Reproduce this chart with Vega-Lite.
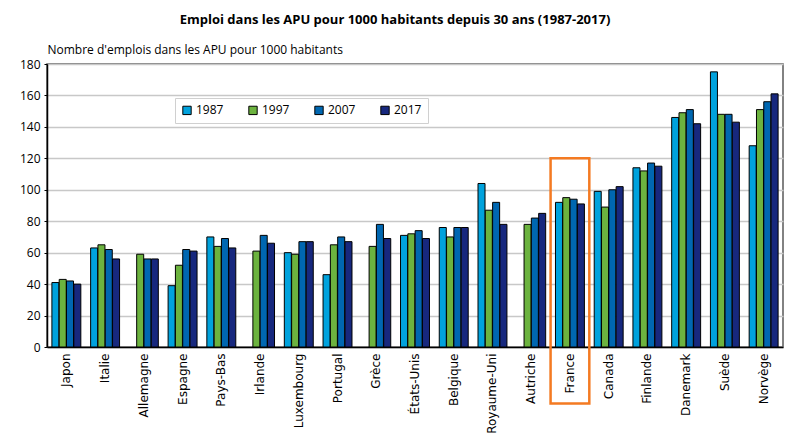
{
  "$schema": "https://vega.github.io/schema/vega-lite/v6.json",
  "width": 736,
  "height": 283,
  "autosize": {"type": "none"},
  "padding": {"left": 47, "top": 64, "right": 6, "bottom": 90},
  "background": "white",
  "title": {
    "text": "Emploi dans les APU pour 1000 habitants depuis 30 ans (1987-2017)",
    "font": "Open Sans",
    "fontSize": 13,
    "fontWeight": "bold",
    "color": "black",
    "anchor": "middle",
    "dx": -20,
    "offset": 16
  },
  "config": {
    "view": {"stroke": "#595959", "strokeWidth": 1.5},
    "font": "Open Sans",
    "axisY": {
      "values": [0, 20, 40, 60, 80, 100, 120, 140, 160, 180],
      "labelOverlap": false,
      "labelFlush": false,
      "titleAngle": 0,
      "titleAlign": "left",
      "titleBaseline": "bottom",
      "titleX": 0,
      "titleY": -8,
      "titleFont": "Open Sans",
      "titleFontSize": 12,
      "titleFontWeight": "normal",
      "titleColor": "black",
      "labelFont": "Open Sans",
      "labelFontSize": 12,
      "labelColor": "black",
      "labelPadding": 4,
      "tickSize": 3,
      "tickColor": "black",
      "domainColor": "black",
      "domainWidth": 1.5,
      "grid": true,
      "gridColor": "#c8c8c8",
      "gridWidth": 1.5
    }
  },
  "datasets": {
    "emplois": [
      {"pays": "Japon", "annee": "1987", "valeur": 41},
      {"pays": "Japon", "annee": "1997", "valeur": 43},
      {"pays": "Japon", "annee": "2007", "valeur": 42},
      {"pays": "Japon", "annee": "2017", "valeur": 40},
      {"pays": "Italie", "annee": "1987", "valeur": 63},
      {"pays": "Italie", "annee": "1997", "valeur": 65},
      {"pays": "Italie", "annee": "2007", "valeur": 62},
      {"pays": "Italie", "annee": "2017", "valeur": 56},
      {"pays": "Allemagne", "annee": "1997", "valeur": 59},
      {"pays": "Allemagne", "annee": "2007", "valeur": 56},
      {"pays": "Allemagne", "annee": "2017", "valeur": 56},
      {"pays": "Espagne", "annee": "1987", "valeur": 39},
      {"pays": "Espagne", "annee": "1997", "valeur": 52},
      {"pays": "Espagne", "annee": "2007", "valeur": 62},
      {"pays": "Espagne", "annee": "2017", "valeur": 61},
      {"pays": "Pays-Bas", "annee": "1987", "valeur": 70},
      {"pays": "Pays-Bas", "annee": "1997", "valeur": 64},
      {"pays": "Pays-Bas", "annee": "2007", "valeur": 69},
      {"pays": "Pays-Bas", "annee": "2017", "valeur": 63},
      {"pays": "Irlande", "annee": "1997", "valeur": 61},
      {"pays": "Irlande", "annee": "2007", "valeur": 71},
      {"pays": "Irlande", "annee": "2017", "valeur": 66},
      {"pays": "Luxembourg", "annee": "1987", "valeur": 60},
      {"pays": "Luxembourg", "annee": "1997", "valeur": 59},
      {"pays": "Luxembourg", "annee": "2007", "valeur": 67},
      {"pays": "Luxembourg", "annee": "2017", "valeur": 67},
      {"pays": "Portugal", "annee": "1987", "valeur": 46},
      {"pays": "Portugal", "annee": "1997", "valeur": 65},
      {"pays": "Portugal", "annee": "2007", "valeur": 70},
      {"pays": "Portugal", "annee": "2017", "valeur": 67},
      {"pays": "Grèce", "annee": "1997", "valeur": 64},
      {"pays": "Grèce", "annee": "2007", "valeur": 78},
      {"pays": "Grèce", "annee": "2017", "valeur": 69},
      {"pays": "États-Unis", "annee": "1987", "valeur": 71},
      {"pays": "États-Unis", "annee": "1997", "valeur": 72},
      {"pays": "États-Unis", "annee": "2007", "valeur": 74},
      {"pays": "États-Unis", "annee": "2017", "valeur": 69},
      {"pays": "Belgique", "annee": "1987", "valeur": 76},
      {"pays": "Belgique", "annee": "1997", "valeur": 70},
      {"pays": "Belgique", "annee": "2007", "valeur": 76},
      {"pays": "Belgique", "annee": "2017", "valeur": 76},
      {"pays": "Royaume-Uni", "annee": "1987", "valeur": 104},
      {"pays": "Royaume-Uni", "annee": "1997", "valeur": 87},
      {"pays": "Royaume-Uni", "annee": "2007", "valeur": 92},
      {"pays": "Royaume-Uni", "annee": "2017", "valeur": 78},
      {"pays": "Autriche", "annee": "1997", "valeur": 78},
      {"pays": "Autriche", "annee": "2007", "valeur": 82},
      {"pays": "Autriche", "annee": "2017", "valeur": 85},
      {"pays": "France", "annee": "1987", "valeur": 92},
      {"pays": "France", "annee": "1997", "valeur": 95},
      {"pays": "France", "annee": "2007", "valeur": 94},
      {"pays": "France", "annee": "2017", "valeur": 91},
      {"pays": "Canada", "annee": "1987", "valeur": 99},
      {"pays": "Canada", "annee": "1997", "valeur": 89},
      {"pays": "Canada", "annee": "2007", "valeur": 100},
      {"pays": "Canada", "annee": "2017", "valeur": 102},
      {"pays": "Finlande", "annee": "1987", "valeur": 114},
      {"pays": "Finlande", "annee": "1997", "valeur": 112},
      {"pays": "Finlande", "annee": "2007", "valeur": 117},
      {"pays": "Finlande", "annee": "2017", "valeur": 115},
      {"pays": "Danemark", "annee": "1987", "valeur": 146},
      {"pays": "Danemark", "annee": "1997", "valeur": 149},
      {"pays": "Danemark", "annee": "2007", "valeur": 151},
      {"pays": "Danemark", "annee": "2017", "valeur": 142},
      {"pays": "Suède", "annee": "1987", "valeur": 175},
      {"pays": "Suède", "annee": "1997", "valeur": 148},
      {"pays": "Suède", "annee": "2007", "valeur": 148},
      {"pays": "Suède", "annee": "2017", "valeur": 143},
      {"pays": "Norvège", "annee": "1987", "valeur": 128},
      {"pays": "Norvège", "annee": "1997", "valeur": 151},
      {"pays": "Norvège", "annee": "2007", "valeur": 156},
      {"pays": "Norvège", "annee": "2017", "valeur": 161}
    ],
    "cadre": [
      {"pays": "France", "haut": 120, "bas": -36}
    ]
  },
  "layer": [
    {
      "data": {"name": "emplois"},
      "mark": {"type": "bar", "stroke": "black", "strokeWidth": 1},
      "encoding": {
        "x": {
          "field": "pays",
          "type": "nominal",
          "scale": {
            "domain": ["Japon", "Italie", "Allemagne", "Espagne", "Pays-Bas", "Irlande", "Luxembourg", "Portugal", "Grèce", "États-Unis", "Belgique", "Royaume-Uni", "Autriche", "France", "Canada", "Finlande", "Danemark", "Suède", "Norvège"],
            "paddingInner": 0,
            "paddingOuter": 0
          },
          "axis": {
            "title": null,
            "labelAngle": -90,
            "labelFont": "DejaVu Sans",
            "labelFontSize": 12,
            "labelColor": "black",
            "labelPadding": 6,
            "ticks": false,
            "domainColor": "black",
            "domainWidth": 1.5
          }
        },
        "xOffset": {
          "field": "annee",
          "type": "nominal",
          "scale": {"paddingOuter": 0.67, "paddingInner": 0.04}
        },
        "y": {
          "field": "valeur",
          "type": "quantitative",
          "scale": {"domain": [0, 180], "nice": false},
          "axis": {
            "title": "Nombre d'emplois dans les APU pour 1000 habitants",
            "values": [0, 20, 40, 60, 80, 100, 120, 140, 160, 180]
          }
        },
        "color": {
          "field": "annee",
          "type": "nominal",
          "scale": {
            "domain": ["1987", "1997", "2007", "2017"],
            "range": ["#00a2dd", "#6cb33f", "#0067b1", "#17287e"]
          },
          "legend": {
            "title": null,
            "orient": "none",
            "legendX": 128,
            "legendY": 34,
            "direction": "horizontal",
            "columns": 4,
            "symbolType": "square",
            "symbolSize": 70,
            "symbolStrokeColor": "black",
            "symbolStrokeWidth": 1,
            "labelFont": "Open Sans",
            "labelFontSize": 12,
            "labelColor": "black",
            "labelOffset": 3,
            "columnPadding": 22,
            "padding": 6,
            "fillColor": "white",
            "strokeColor": "#d0d0d0"
          }
        }
      }
    },
    {
      "data": {"name": "cadre"},
      "mark": {"type": "rect", "fill": null, "filled": false, "stroke": "#f47a22", "strokeWidth": 2.5, "clip": false},
      "encoding": {
        "x": {"field": "pays", "type": "nominal"},
        "y": {
          "field": "haut",
          "type": "quantitative",
          "axis": {
            "title": "Nombre d'emplois dans les APU pour 1000 habitants",
            "values": [0, 20, 40, 60, 80, 100, 120, 140, 160, 180]
          }
        },
        "y2": {"field": "bas"}
      }
    }
  ]
}
